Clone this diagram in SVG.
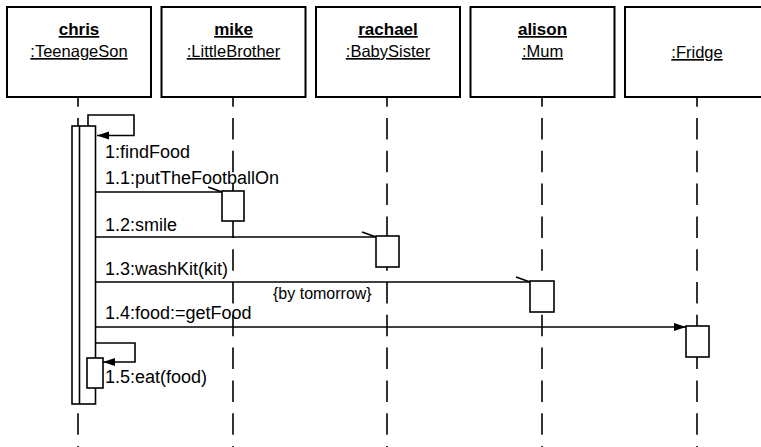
<svg xmlns="http://www.w3.org/2000/svg" width="761" height="447" viewBox="0 0 761 447">
<style>
.bg{fill:#fff}
.box{fill:#fff;stroke:#000;stroke-width:2}
.name{font-family:"Liberation Sans",Arial,sans-serif;font-size:17px;font-weight:bold;text-anchor:middle;text-decoration:underline}
.cls{font-family:"Liberation Sans",Arial,sans-serif;font-size:16.5px;text-anchor:middle;text-decoration:underline}
.life{stroke:#000;stroke-width:1.6;stroke-dasharray:21.5 11.3;stroke-dashoffset:11.8;fill:none}
.act{fill:#fff;stroke:#000;stroke-width:1.6}
.msg{stroke:#000;stroke-width:1.6;fill:none}
.lbl{font-family:"Liberation Sans",Arial,sans-serif;font-size:18px;fill:#000}
.note{font-family:"Liberation Sans",Arial,sans-serif;font-size:16px;fill:#000}
</style>
<defs>
<marker id="half" markerUnits="userSpaceOnUse" markerWidth="20" markerHeight="12" refX="15" refY="6" orient="auto" overflow="visible"><path d="M1,1 L15,6" stroke="#000" stroke-width="1.6" fill="none"/></marker>
<marker id="filled" markerUnits="userSpaceOnUse" markerWidth="14" markerHeight="10" refX="12" refY="5" orient="auto"><path d="M0,1 L12,5 L0,9 Z" fill="#000"/></marker>
</defs>
<rect class="bg" x="0" y="0" width="761" height="447"/>

<g id="chris">
<line class="life" x1="78" y1="97" x2="78" y2="447"/>
<rect class="box" x="7" y="7" width="144" height="90"/>
<text class="name" x="79" y="35">chris</text>
<text class="cls" x="79" y="57">:TeenageSon</text>
<rect class="act" x="72" y="126" width="23.5" height="278"/>
<line class="msg" x1="79.5" y1="126" x2="79.5" y2="404"/>
<rect class="act" x="87" y="358" width="16" height="30"/>
</g>

<g id="mike">
<line class="life" x1="233" y1="97" x2="233" y2="447"/>
<rect class="box" x="161.5" y="7" width="144" height="90"/>
<text class="name" x="233.5" y="35">mike</text>
<text class="cls" x="233.5" y="57">:LittleBrother</text>
<rect class="act" x="222" y="191" width="22" height="30"/>
</g>

<g id="rachael">
<line class="life" x1="387" y1="97" x2="387" y2="447"/>
<rect class="box" x="316" y="7" width="144" height="90"/>
<text class="name" x="388" y="35">rachael</text>
<text class="cls" x="388" y="57">:BabySister</text>
<rect class="act" x="376" y="236" width="23" height="31"/>
</g>

<g id="alison">
<line class="life" x1="542" y1="97" x2="542" y2="447"/>
<rect class="box" x="470.5" y="7" width="144" height="90"/>
<text class="name" x="542.5" y="35">alison</text>
<text class="cls" x="542.5" y="57">:Mum</text>
<rect class="act" x="530" y="281" width="24" height="31"/>
</g>

<g id="fridge">
<line class="life" x1="697" y1="97" x2="697" y2="447"/>
<rect class="box" x="625" y="7" width="144" height="90"/>
<text class="cls" x="697" y="58">:Fridge</text>
<rect class="act" x="686" y="326" width="23" height="31"/>
</g>

<g id="connectors">
<path class="msg" d="M88,126 V115 H134 V135.5 H97" marker-end="url(#filled)"/>
<text class="lbl" x="105" y="158">1:findFood</text>
<line class="msg" x1="96" y1="192" x2="222" y2="192" marker-end="url(#half)"/>
<text class="lbl" x="105" y="184">1.1:putTheFootballOn</text>
<line class="msg" x1="96" y1="237" x2="376" y2="237" marker-end="url(#half)"/>
<text class="lbl" x="105" y="231">1.2:smile</text>
<line class="msg" x1="96" y1="282" x2="530" y2="282" marker-end="url(#half)"/>
<text class="lbl" x="105" y="275">1.3:washKit(kit)</text>
<text class="note" x="273" y="299">{by tomorrow}</text>
<line class="msg" x1="96" y1="327" x2="686" y2="327" marker-end="url(#filled)"/>
<text class="lbl" x="105" y="319">1.4:food:=getFood</text>
<path class="msg" d="M95,343 H135 V362 H103" marker-end="url(#filled)"/>
<text class="lbl" x="105" y="383">1.5:eat(food)</text>
</g>
</svg>
